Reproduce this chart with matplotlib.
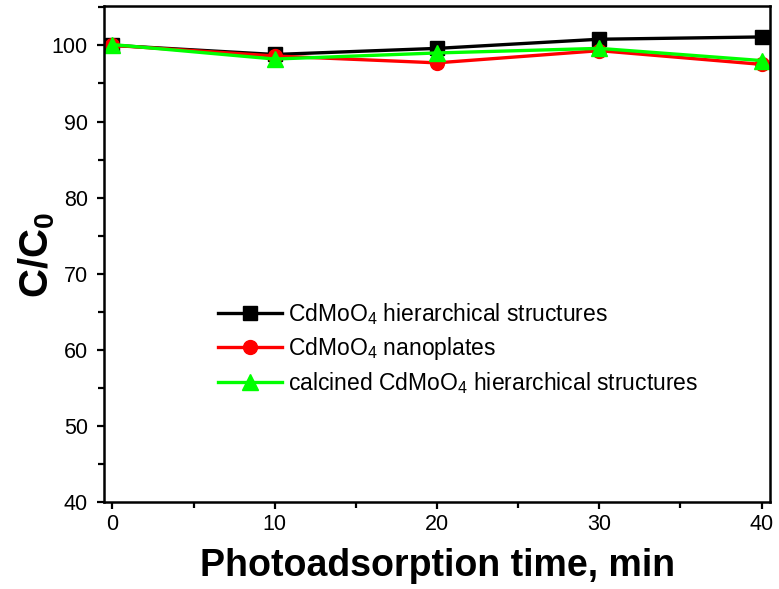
import matplotlib
matplotlib.use("Agg")
import matplotlib.pyplot as plt
from matplotlib.ticker import MultipleLocator

plt.rcParams['font.family'] = ['Liberation Sans', 'DejaVu Sans']
plt.rcParams['mathtext.fontset'] = 'custom'
plt.rcParams['mathtext.rm'] = 'Liberation Sans'
plt.rcParams['mathtext.bf'] = 'Liberation Sans:bold'

# data
time_min = [0, 10, 20, 30, 40]
hierarchical = [100.0, 98.8, 99.6, 100.8, 101.1]
nanoplates = [100.0, 98.6, 97.7, 99.3, 97.5]
calcined = [100.1, 98.2, 99.0, 99.6, 98.0]

labels = [r'CdMoO$_4$ hierarchical structures',
          r'CdMoO$_4$ nanoplates',
          r'calcined CdMoO$_4$ hierarchical structures']

fig = plt.figure(figsize=(7.79, 5.89), dpi=100)
ax = fig.add_axes([0.134, 0.147, 0.855, 0.842])

ax.plot(time_min, hierarchical, color='black', marker='s', ms=10, lw=2.4, label=labels[0])
ax.plot(time_min, nanoplates, color='red', marker='o', ms=10, lw=2.4, label=labels[1])
ax.plot(time_min, calcined, color='#00ff00', marker='^', ms=11, lw=2.4, label=labels[2])

ax.set_xlim(-0.5, 40.55)
ax.set_ylim(40, 105.1)
ax.xaxis.set_major_locator(MultipleLocator(10))
ax.xaxis.set_minor_locator(MultipleLocator(5))
ax.yaxis.set_major_locator(MultipleLocator(10))
ax.yaxis.set_minor_locator(MultipleLocator(5))
ax.tick_params(which='both', direction='out', top=False, right=False,
               width=1.6, labelsize=15.5)
ax.tick_params(which='major', length=5)
ax.tick_params(which='minor', length=4)
ax.tick_params(axis='y', which='major', pad=7)
for sp in ax.spines.values():
    sp.set_linewidth(1.8)

ax.set_xlabel('Photoadsorption time, min', fontsize=27, fontweight='bold', labelpad=9)
ax.set_ylabel(r'$\mathbf{C/C_0}$', fontsize=29, labelpad=-4)

ax.legend(loc='center left', bbox_to_anchor=(0.171, 0.31), frameon=False,
          fontsize=16.5, handlelength=2.8, handletextpad=0.25, labelspacing=0.35,
          borderpad=0, borderaxespad=0)

fig.savefig('out.png', dpi=100)
